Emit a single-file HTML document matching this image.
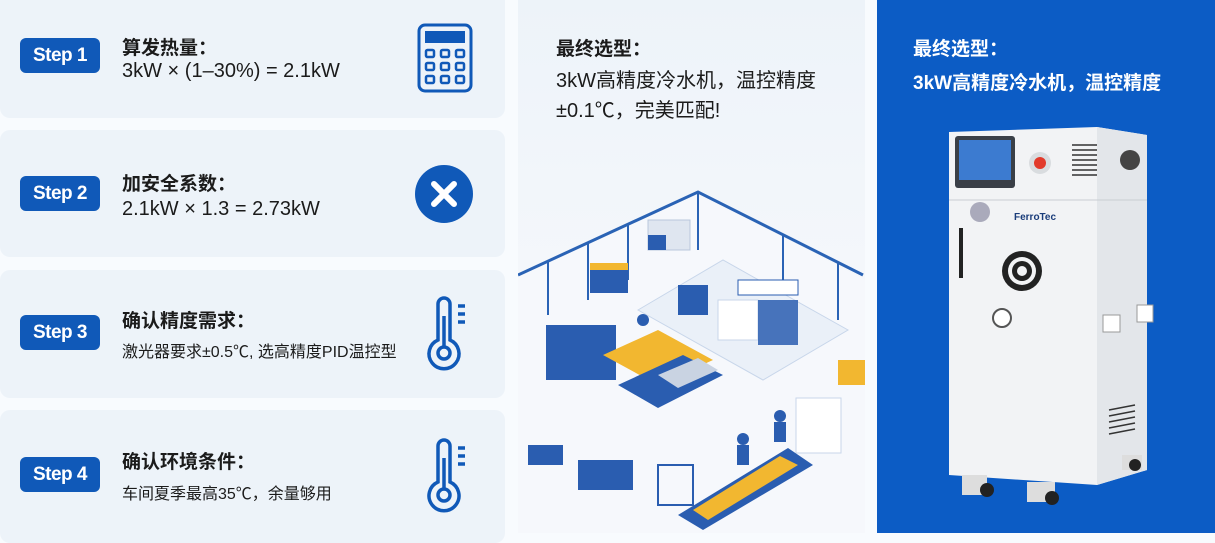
<!DOCTYPE html>
<html><head><meta charset="utf-8"><style>
*{margin:0;padding:0;box-sizing:border-box}
body{width:1215px;height:533px;overflow:hidden;background:#f8fbfe;position:relative;font-family:"Liberation Sans","Noto Sans CJK SC",sans-serif;color:#1b1b1b}
.card{position:absolute;left:0;width:505px;background:#edf3f9;border-radius:10px}
.badge{position:absolute;left:20px;width:80px;height:35px;background:#1059b8;color:#fff;border-radius:6px;font-weight:bold;font-size:19px;text-align:center;line-height:35px;letter-spacing:-0.5px}
.t{position:absolute;left:122px;font-weight:bold;font-size:19px}
.s{position:absolute;left:122px;font-size:20px}
.s2{position:absolute;left:122px;font-size:16px}
.icon{position:absolute}
#mid{position:absolute;left:518px;top:0;width:347px;height:533px;background:linear-gradient(#edf3f9,#f4f7fb 50%,#fbfcfe)}
#right{position:absolute;left:877px;top:0;width:338px;height:533px;background:#0c5cc5}
</style></head><body>
<div class="card" style="top:-10px;height:128px"></div>
<div class="card" style="top:130px;height:127px"></div>
<div class="card" style="top:270px;height:128px"></div>
<div class="card" style="top:410px;height:133px"></div>

<div class="badge" style="top:38px">Step 1</div>
<div class="t" style="top:33px">算发热量：</div>
<div class="s" style="top:60px">3kW × (1–30%) = 2.1kW</div>
<div class="badge" style="top:176px">Step 2</div>
<div class="t" style="top:169px">加安全系数：</div>
<div class="s" style="top:198px">2.1kW × 1.3 = 2.73kW</div>
<div class="badge" style="top:315px">Step 3</div>
<div class="t" style="top:306px">确认精度需求：</div>
<div class="s2" style="top:338px">激光器要求±0.5℃, 选高精度PID温控型</div>
<div class="badge" style="top:457px">Step 4</div>
<div class="t" style="top:447px">确认环境条件：</div>
<div class="s2" style="top:480px">车间夏季最高35℃，余量够用</div>

<svg class="icon" style="left:415px;top:22px" width="60" height="72" viewBox="0 0 60 72">
<rect x="4" y="3" width="52" height="66" rx="6" fill="none" stroke="#1059b8" stroke-width="3"/>
<rect x="10" y="9" width="40" height="12" fill="#1059b8"/>
<g fill="none" stroke="#1059b8" stroke-width="2.5">
<rect x="11" y="28" width="8" height="7" rx="1.5"/><rect x="26" y="28" width="8" height="7" rx="1.5"/><rect x="41" y="28" width="8" height="7" rx="1.5"/>
<rect x="11" y="41" width="8" height="7" rx="1.5"/><rect x="26" y="41" width="8" height="7" rx="1.5"/><rect x="41" y="41" width="8" height="7" rx="1.5"/>
<rect x="11" y="54" width="8" height="7" rx="1.5"/><rect x="26" y="54" width="8" height="7" rx="1.5"/><rect x="41" y="54" width="8" height="7" rx="1.5"/></g></svg>
<svg class="icon" style="left:415px;top:165px" width="60" height="60"><circle cx="29" cy="29" r="29" fill="#1059b8"/><path d="M19 19L39 39M39 19L19 39" stroke="#fff" stroke-width="6" stroke-linecap="round"/></svg>
<svg class="icon" style="left:422px;top:294px" width="50" height="78"><g fill="none" stroke="#1059b8" stroke-width="3.5"><path d="M16 46V10a6 6 0 0 1 12 0v36a15 15 0 1 1-12 0z"/><circle cx="22" cy="59" r="6"/><path d="M22 53V22M36 12h7M36 20h7M36 28h7"/></g></svg>
<svg class="icon" style="left:422px;top:436px" width="50" height="78"><g fill="none" stroke="#1059b8" stroke-width="3.5"><path d="M16 46V10a6 6 0 0 1 12 0v36a15 15 0 1 1-12 0z"/><circle cx="22" cy="59" r="6"/><path d="M22 53V22M36 12h7M36 20h7M36 28h7"/></g></svg>

<div id="mid">
<div style="position:absolute;left:38px;top:34px;font-weight:bold;font-size:19px">最终选型：</div>
<div style="position:absolute;left:38px;top:66px;font-size:20px;line-height:30px">3kW高精度冷水机，温控精度<br>±0.1℃，完美匹配!</div>
<svg style="position:absolute;left:0;top:180px" width="347" height="353">
<polygon points="0,95 180,12 347,100 347,353 0,353" fill="#f6f8fc"/>
<polyline points="0,95 180,12 345,95" fill="none" stroke="#2a63b5" stroke-width="3"/>
<g stroke="#2a63b5" stroke-width="2"><line x1="30" y1="82" x2="30" y2="135"/><line x1="70" y1="62" x2="70" y2="120"/><line x1="110" y1="44" x2="110" y2="100"/><line x1="180" y1="12" x2="180" y2="70"/><line x1="265" y1="55" x2="265" y2="135"/><line x1="320" y1="82" x2="320" y2="140"/></g>
<polygon points="120,130 205,80 330,150 245,200" fill="#eaf0f8" stroke="#c8d6ea"/>
<rect x="130" y="40" width="42" height="30" fill="#dfe6f0" stroke="#b9c7dc"/><rect x="130" y="55" width="18" height="15" fill="#2a5db0"/>
<rect x="72" y="88" width="38" height="25" fill="#2a5db0"/><rect x="72" y="83" width="38" height="7" fill="#f2b730"/>
<rect x="160" y="105" width="30" height="30" fill="#2a5db0"/><rect x="200" y="120" width="40" height="40" fill="#fff" stroke="#c8d6ea"/><rect x="220" y="100" width="60" height="15" fill="#fff" stroke="#2a5db0"/><rect x="240" y="120" width="40" height="45" fill="#2a5db0" opacity="0.85"/>
<rect x="28" y="145" width="70" height="55" fill="#2a5db0"/><polygon points="85,175 140,150 195,180 140,205" fill="#f2b730"/>
<polygon points="100,205 165,175 205,195 140,228" fill="#2a5db0"/><polygon points="140,195 180,178 200,190 160,208" fill="#c9d3e2"/>
<rect x="10" y="265" width="35" height="20" fill="#2a5db0"/><rect x="60" y="280" width="55" height="30" fill="#2a5db0"/>
<rect x="278" y="218" width="45" height="55" fill="#fff" stroke="#c8d6ea"/>
<polygon points="160,335 270,268 295,285 185,350" fill="#2a5db0"/><polygon points="175,330 262,276 280,285 190,340" fill="#f2b730"/>
<rect x="140" y="285" width="35" height="40" fill="none" stroke="#2a5db0" stroke-width="2"/>
<circle cx="225" cy="259" r="6" fill="#2a5db0"/><rect x="219" y="265" width="12" height="20" fill="#2a5db0"/>
<circle cx="262" cy="236" r="6" fill="#2a5db0"/><rect x="256" y="242" width="12" height="20" fill="#2a5db0"/>
<circle cx="125" cy="140" r="6" fill="#2a5db0"/>
<rect x="320" y="180" width="27" height="25" fill="#f2b730"/>
</svg>
</div>

<div id="right">
<div style="position:absolute;left:36px;top:34px;color:#fff;font-weight:bold;font-size:19px">最终选型：</div>
<div style="position:absolute;left:36px;top:68px;color:#fff;font-weight:bold;font-size:19px">3kW高精度冷水机，温控精度</div>
<svg style="position:absolute;left:0;top:0" width="338" height="533">
<polygon points="72,132 220,127 270,135 270,470 220,485 72,475" fill="#f2f3f5"/>
<polygon points="220,127 270,135 270,470 220,485" fill="#e3e6ea"/>
<line x1="72" y1="200" x2="270" y2="200" stroke="#c9cdd2"/>
<rect x="78" y="136" width="60" height="52" rx="3" fill="#3a3f47"/><rect x="82" y="140" width="52" height="40" fill="#3c7bd0"/>
<circle cx="163" cy="163" r="11" fill="#d9dcdf"/><circle cx="163" cy="163" r="6" fill="#e23a2b"/>
<g stroke="#333" stroke-width="1.5"><line x1="195" y1="145" x2="220" y2="145"/><line x1="195" y1="150" x2="220" y2="150"/><line x1="195" y1="155" x2="220" y2="155"/><line x1="195" y1="160" x2="220" y2="160"/><line x1="195" y1="165" x2="220" y2="165"/><line x1="195" y1="170" x2="220" y2="170"/><line x1="195" y1="175" x2="220" y2="175"/></g>
<circle cx="253" cy="160" r="10" fill="#444"/>
<text x="137" y="220" font-size="10" font-weight="bold" fill="#1a3c7a" font-family="Liberation Sans">FerroTec</text>
<circle cx="103" cy="212" r="10" fill="#aab" /><rect x="82" y="228" width="4" height="50" fill="#222"/>
<circle cx="145" cy="271" r="20" fill="#222"/><circle cx="145" cy="271" r="14" fill="#f2f3f5"/><circle cx="145" cy="271" r="10" fill="#222"/><circle cx="145" cy="271" r="5" fill="#f2f3f5"/>
<circle cx="125" cy="318" r="9" fill="#fff" stroke="#555" stroke-width="2"/>
<rect x="226" y="315" width="17" height="17" fill="#fff" stroke="#999"/><rect x="260" y="305" width="16" height="17" fill="#fff" stroke="#999"/>
<g stroke="#333" stroke-width="1.5"><line x1="232" y1="410" x2="258" y2="405"/><line x1="232" y1="416" x2="258" y2="411"/><line x1="232" y1="422" x2="258" y2="417"/><line x1="232" y1="428" x2="258" y2="423"/><line x1="232" y1="434" x2="258" y2="429"/></g>
<rect x="85" y="475" width="25" height="20" fill="#ddd"/><circle cx="110" cy="490" r="7" fill="#222"/>
<rect x="150" y="482" width="28" height="20" fill="#ddd"/><circle cx="175" cy="498" r="7" fill="#222"/>
<rect x="245" y="455" width="20" height="15" fill="#ddd"/><circle cx="258" cy="465" r="6" fill="#222"/>
</svg>
</div>
</body></html>
